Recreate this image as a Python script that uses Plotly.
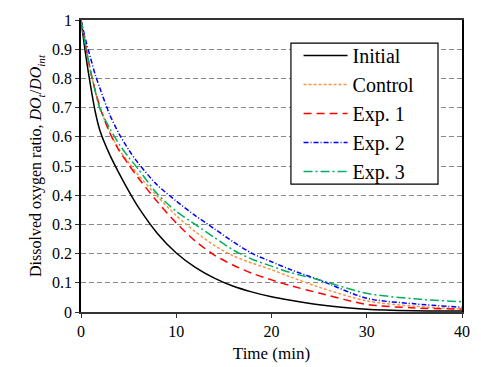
import plotly.graph_objects as go

time_min = [0, 0.5, 1, 1.5, 2, 3, 4, 5, 6, 8, 10, 12, 14, 16, 18, 20, 22, 25, 30, 35, 40]

initial = [1.0, 0.88, 0.775, 0.685, 0.62, 0.54, 0.475, 0.415, 0.36, 0.27, 0.202, 0.153, 0.116, 0.088,
           0.068, 0.052, 0.04, 0.025, 0.009, 0.004, 0.003]
control = [1.0, 0.91, 0.825, 0.758, 0.7, 0.617, 0.557, 0.512, 0.47, 0.397, 0.33, 0.275, 0.228, 0.192,
           0.167, 0.145, 0.12, 0.085, 0.038, 0.02, 0.01]
exp1 = [1.0, 0.91, 0.825, 0.758, 0.7, 0.615, 0.553, 0.505, 0.46, 0.378, 0.305, 0.243, 0.195, 0.16,
        0.132, 0.11, 0.09, 0.065, 0.026, 0.014, 0.01]
exp2 = [1.0, 0.93, 0.87, 0.812, 0.765, 0.677, 0.61, 0.556, 0.51, 0.435, 0.38, 0.33, 0.285, 0.24,
        0.2, 0.172, 0.145, 0.11, 0.047, 0.028, 0.016]
exp3 = [1.0, 0.91, 0.825, 0.755, 0.695, 0.63, 0.575, 0.53, 0.49, 0.405, 0.345, 0.3, 0.255, 0.212,
        0.18, 0.157, 0.135, 0.11, 0.064, 0.045, 0.035]

series_names = ["Initial", "Control", "Exp. 1", "Exp. 2", "Exp. 3"]
series_values = [initial, control, exp1, exp2, exp3]
colors = ["#000000", "#F79646", "#FF0000", "#0000FF", "#00B060"]
dashes = ["solid", "3px,2px", "8px,5px", "5px,2px,1px,2px", "9px,3px,2px,3px"]

x_ticks = [0, 10, 20, 30, 40]
y_ticks = [0, 0.1, 0.2, 0.3, 0.4, 0.5, 0.6, 0.7, 0.8, 0.9, 1]
y_tick_labels = ["0", "0.1", "0.2", "0.3", "0.4", "0.5", "0.6", "0.7", "0.8", "0.9", "1"]

FONT = "Liberation Serif"

fig = go.Figure()
for name, vals, c, d in zip(series_names, series_values, colors, dashes):
    fig.add_trace(go.Scatter(
        x=time_min, y=vals, name=name, mode="lines",
        line=dict(color=c, width=1.5, dash=d, shape="spline", smoothing=0.8),
    ))

# legend frame
fig.add_shape(type="rect", xref="x domain", yref="y domain",
              x0=0.551, x1=0.937, y0=0.438, y1=0.921,
              line=dict(color="black", width=1.2), fillcolor="white", layer="above")

fig.update_layout(
    width=481, height=367,
    margin=dict(l=81, r=19, t=20, b=55),
    paper_bgcolor="white", plot_bgcolor="white",
    font=dict(family=FONT, size=16, color="black"),
    showlegend=True,
    legend=dict(
        x=0.571, y=0.945, xanchor="left", yanchor="top",
        bgcolor="rgba(0,0,0,0)", borderwidth=0,
        font=dict(family=FONT, size=20, color="black"),
        tracegroupgap=0, itemwidth=44,
    ),
    xaxis=dict(
        range=[0, 40], tickmode="array", tickvals=x_ticks,
        ticks="outside", ticklen=4, tickcolor="#333",
        showline=True, linecolor="#333", linewidth=1.5, mirror=True,
        showgrid=False, zeroline=False, automargin=False,
        title=dict(text="Time (min)", font=dict(family=FONT, size=17), standoff=8),
        tickfont=dict(family=FONT, size=16),
    ),
    yaxis=dict(
        range=[0, 1], tickmode="array", tickvals=y_ticks, ticktext=y_tick_labels,
        ticks="outside", ticklen=4, tickcolor="#333",
        showline=True, linecolor="black", linewidth=1.5, mirror=True,
        showgrid=True, gridcolor="#888888", griddash="5px,3px", gridwidth=1,
        zeroline=False, automargin=False,
        title=dict(text="Dissolved oxygen ratio, <i>DO</i><sub><i>t</i></sub>/<i>DO</i><sub><i>int</i></sub>",
                   font=dict(family=FONT, size=16), standoff=6),
        tickfont=dict(family=FONT, size=16),
    ),
)

fig.write_html("out.html", config={"displayModeBar": False},
               post_script="document.body.style.margin='0';")
